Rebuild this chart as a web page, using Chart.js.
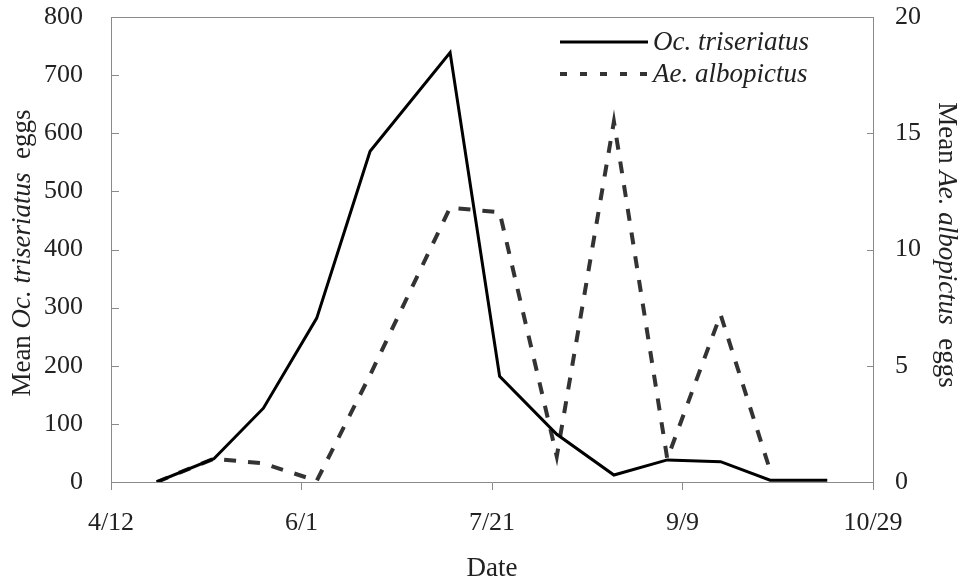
<!DOCTYPE html>
<html>
<head>
<meta charset="utf-8">
<script src="https://cdn.jsdelivr.net/npm/chart.js@4/dist/chart.umd.min.js"></script>
<style>
  body { margin: 0; background: #fff; }
  canvas { display: block; }
</style>
</head>
<body>
<canvas id="eggs" width="960" height="586"></canvas>
<script>
// sampling dates and mean egg counts per ovitrap
const sampleDates = ['4/24', '5/9', '5/22', '6/5', '6/19', '7/10', '7/23', '8/7', '8/22', '9/5', '9/19', '10/2', '10/17'];
const triseriatus = [0, 40, 127, 282, 569, 739, 182, 82, 12, 38, 35, 3, 3];
const albopictus = [0, 1.0, 0.8, 0.05, 4.6, 11.8, 11.6, 1.1, 15.5, 1.0, 7.2, 0.5];
const dateTicks = ['4/12', '6/1', '7/21', '9/9', '10/29'];
const leftTicks = [0, 100, 200, 300, 400, 500, 600, 700, 800];
const rightTicks = [0, 5, 10, 15, 20];

const serif = '"Liberation Serif", "Times New Roman", serif';
const axisColor = '#8a8a8a';
const textColor = '#222';

// days since 4/12, so the x axis runs 0..200 in 50-day steps
const origin = new Date(2000, 3, 12);
const dayOf = s => {
  const [m, d] = s.split('/').map(Number);
  return Math.round((new Date(2000, m - 1, d) - origin) / 86400000);
};
const toPoints = vals => vals.map((v, i) => ({ x: dayOf(sampleDates[i]), y: v }));

// draws text made of several runs (plain / italic) centred on cx,cy
function drawRuns(ctx, runs, cx, cy, angle, size) {
  ctx.save();
  ctx.translate(cx, cy);
  ctx.rotate(angle);
  ctx.textBaseline = 'middle';
  ctx.textAlign = 'left';
  ctx.fillStyle = textColor;
  const fontFor = r => (r.italic ? 'italic ' : '') + size + 'px ' + serif;
  let total = 0;
  runs.forEach(r => { ctx.font = fontFor(r); total += ctx.measureText(r.text).width; });
  let x = -total / 2;
  runs.forEach(r => {
    ctx.font = fontFor(r);
    ctx.fillText(r.text, x, 0);
    x += ctx.measureText(r.text).width;
  });
  ctx.restore();
}

const decor = {
  id: 'decor',
  afterDraw(chart) {
    const { ctx, chartArea: a, scales } = chart;
    ctx.save();
    ctx.strokeStyle = axisColor;
    ctx.lineWidth = 1;
    ctx.beginPath();
    // top edge of the frame
    ctx.moveTo(a.left, a.top + 0.5);
    ctx.lineTo(a.right, a.top + 0.5);
    // inward ticks on both value axes
    scales.y.ticks.forEach(t => {
      const py = Math.round(scales.y.getPixelForValue(t.value)) + 0.5;
      ctx.moveTo(a.left, py);
      ctx.lineTo(a.left + 8, py);
    });
    scales.y1.ticks.forEach(t => {
      const py = Math.round(scales.y1.getPixelForValue(t.value)) + 0.5;
      ctx.moveTo(a.right, py);
      ctx.lineTo(a.right - 6, py);
    });
    ctx.stroke();
    ctx.restore();

    // axis titles
    drawRuns(ctx, [{ text: 'Mean ' }, { text: 'Oc. triseriatus', italic: true }, { text: '  eggs' }],
      23, 253, -Math.PI / 2, 27);
    drawRuns(ctx, [{ text: 'Mean ' }, { text: 'Ae. albopictus', italic: true }, { text: '  eggs' }],
      946, 245, Math.PI / 2, 27);
    drawRuns(ctx, [{ text: 'Date' }], (a.left + a.right) / 2, 569, 0, 27);

    // legend in the upper right of the plot
    const rows = [
      { ds: chart.data.datasets[0], y: 42, dash: [] },
      { ds: chart.data.datasets[1], y: 74, dash: [7, 13] }
    ];
    rows.forEach(r => {
      ctx.save();
      ctx.strokeStyle = r.ds.borderColor;
      ctx.lineWidth = r.ds.borderWidth;
      ctx.setLineDash(r.dash);
      ctx.beginPath();
      ctx.moveTo(560, r.y);
      ctx.lineTo(648, r.y);
      ctx.stroke();
      ctx.restore();
      ctx.save();
      ctx.font = 'italic 27px ' + serif;
      ctx.fillStyle = textColor;
      ctx.textBaseline = 'middle';
      ctx.fillText(r.ds.label, 653, r.y + 1);
      ctx.restore();
    });
  }
};

// keep the plot frame fixed: no extra room for overhanging tick labels
const noOverhang = s => { s.paddingTop = 0; s.paddingBottom = 0; s.paddingLeft = 0; s.paddingRight = 0; };

new Chart(document.getElementById('eggs'), {
  type: 'line',
  data: {
    datasets: [
      {
        label: 'Oc. triseriatus',
        data: toPoints(triseriatus),
        yAxisID: 'y',
        borderColor: '#000',
        borderWidth: 3,
        pointRadius: 0,
        tension: 0
      },
      {
        label: 'Ae. albopictus',
        data: toPoints(albopictus),
        yAxisID: 'y1',
        borderColor: '#333',
        borderWidth: 4,
        borderDash: [12, 12],
        borderCapStyle: 'butt',
        pointRadius: 0,
        tension: 0
      }
    ]
  },
  options: {
    responsive: false,
    animation: false,
    layout: { padding: { top: 17 } },
    plugins: {
      legend: { display: false },
      tooltip: { enabled: false }
    },
    scales: {
      x: {
        type: 'linear',
        min: 0,
        max: 200,
        afterFit: s => { s.height = 104; noOverhang(s); },
        afterBuildTicks: s => { s.ticks = dateTicks.map((_, i) => ({ value: i * 50 })); },
        grid: { drawOnChartArea: false, drawTicks: true, tickLength: 8, color: axisColor },
        border: { color: axisColor },
        ticks: {
          padding: 18,
          color: textColor,
          font: { family: serif, size: 26 },
          maxRotation: 0,
          callback: (v, i) => dateTicks[i]
        }
      },
      y: {
        position: 'left',
        min: 0,
        max: 800,
        afterFit: s => { s.width = 111; noOverhang(s); },
        afterBuildTicks: s => { s.ticks = leftTicks.map(v => ({ value: v })); },
        grid: { drawOnChartArea: false, drawTicks: false },
        border: { color: axisColor },
        ticks: { padding: 28, color: textColor, font: { family: serif, size: 26 } }
      },
      y1: {
        position: 'right',
        min: 0,
        max: 20,
        afterFit: s => { s.width = 87; noOverhang(s); },
        afterBuildTicks: s => { s.ticks = rightTicks.map(v => ({ value: v })); },
        grid: { drawOnChartArea: false, drawTicks: false },
        border: { color: axisColor },
        ticks: { padding: 22, color: textColor, font: { family: serif, size: 26 } }
      }
    }
  },
  plugins: [decor]
});
</script>
</body>
</html>
